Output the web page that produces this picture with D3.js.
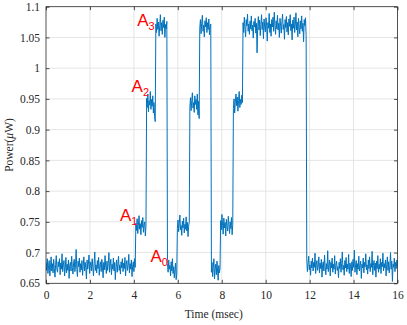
<!DOCTYPE html>
<html>
<head>
<meta charset="utf-8">
<script src="https://cdn.jsdelivr.net/npm/d3@7"></script>
<style>
  html, body { margin: 0; padding: 0; background: #fff; }
  svg { display: block; }
</style>
</head>
<body>
<svg id="chart" width="407" height="325"></svg>
<script>
// ---- data ----
// segment boundaries in msec
const segmentTimes = [0, 4.09, 4.58, 5.0, 5.53, 5.98, 6.55, 7.0, 7.53, 7.95, 8.53, 8.97, 11.87, 16];
// power samples (µW) read per segment
const seg0 = [0.684,0.671,0.690,0.666,0.679,0.687,0.662,0.676,0.693,0.670,
0.682,0.667,0.689,0.674,0.660,0.681,0.695,0.672,0.668,0.685,
0.677,0.690,0.664,0.683,0.673,0.698,0.669,0.680,0.687,0.662,
0.675,0.692,0.667,0.681,0.671,0.688,0.658,0.679,0.684,0.670,
0.694,0.676,0.665,0.683,0.689,0.669,0.680,0.705,0.673,0.661,
0.686,0.677,0.691,0.668,0.682,0.672,0.687,0.663,0.679,0.693,
0.670,0.684,0.675,0.657,0.688,0.673,0.681,0.696,0.666,0.679,
0.685,0.670,0.690,0.676,0.662,0.683,0.701,0.671,0.680,0.667,
0.687,0.674,0.692,0.663,0.680,0.685,0.669,0.689,0.676,0.659,
0.684,0.672,0.695,0.678,0.666,0.686,0.671,0.682,0.700,0.668,
0.679,0.689,0.664,0.681,0.673,0.691,0.670,0.684,0.656,0.677,
0.688,0.668,0.682,0.694,0.671,0.680,0.665,0.685,0.675,0.690,
0.669,0.683,0.674,0.692,0.662,0.681,0.687,0.671,0.679,0.697,
0.667,0.682,0.673,0.688,0.661,0.678,0.685,0.669,0.690,0.676];
const seg1 = [0.748,0.736,0.755,0.731,0.744,0.760,0.738,0.747,0.729,0.752,0.741,0.757,0.733,0.745,0.750,0.727,0.743];
const seg2 = [0.951,0.936,0.958,0.929,0.947,0.940,0.962,0.933,0.949,0.938,0.955,0.927,0.944,0.921,0.913];
const seg3 = [1.072,1.058,1.081,1.063,1.075,1.052,1.069,1.087,1.061,1.074,1.055,1.078,1.066,1.083,1.050,1.071,1.064,1.076];
const seg4 = [0.682,0.668,0.688,0.673,0.679,0.662,0.685,0.670,0.690,0.666,0.677,0.659,0.672,0.683,0.656,0.665];
const seg5 = [0.739,0.753,0.734,0.747,0.761,0.737,0.744,0.728,0.751,0.740,0.756,0.732,0.746,0.738,0.758,0.735,0.749,0.726,0.743,0.750];
const seg6 = [0.938,0.952,0.931,0.947,0.960,0.935,0.944,0.928,0.955,0.941,0.949,0.933,0.958,0.924,0.946,0.918];
const seg7 = [1.065,1.079,1.056,1.073,1.086,1.060,1.070,1.051,1.077,1.067,1.082,1.058,1.074,1.063,1.080,1.054,1.069,1.072];
const seg8 = [0.668,0.684,0.661,0.676,0.690,0.657,0.673,0.681,0.664,0.686,0.670,0.655,0.679,0.667,0.675];
const seg9 = [0.752,0.737,0.762,0.744,0.730,0.756,0.740,0.749,0.727,0.754,0.742,0.735,0.759,0.745,0.731,0.750,0.739,0.757,0.729,0.746];
const seg10 = [0.934,0.950,0.927,0.945,0.958,0.939,0.953,0.930,0.947,0.962,0.936,0.949,0.941,0.956,0.944];
const seg11 = [1.074,1.058,1.083,1.066,1.051,1.079,1.069,1.088,1.060,1.072,
1.055,1.077,1.064,1.085,1.061,1.070,1.049,1.076,1.067,1.081,
1.057,1.073,1.025,1.068,1.084,1.062,1.078,1.053,1.071,1.087,
1.063,1.075,1.048,1.080,1.066,1.059,1.082,1.070,1.044,1.074,
1.065,1.089,1.058,1.072,1.052,1.079,1.067,1.083,1.060,1.091,
1.069,1.055,1.077,1.064,1.086,1.062,1.073,1.050,1.081,1.068,
1.057,1.076,1.088,1.063,1.071,1.047,1.079,1.066,1.084,1.059,
1.074,1.054,1.080,1.068,1.087,1.061,1.072,1.046,1.078,1.065,
1.083,1.058,1.070,1.090,1.062,1.075,1.051,1.081,1.067,1.056,
1.077,1.064,1.085,1.060,1.073,1.043,1.079,1.069,1.082,1.053];
const seg12 = [0.688,0.669,0.682,0.694,0.672,0.680,0.663,0.686,0.675,0.691,
0.670,0.684,0.676,0.699,0.666,0.681,0.687,0.671,0.678,0.693,
0.667,0.683,0.674,0.689,0.660,0.680,0.685,0.670,0.696,0.677,
0.664,0.682,0.673,0.703,0.669,0.679,0.688,0.662,0.684,0.675,
0.691,0.668,0.681,0.673,0.695,0.665,0.680,0.686,0.671,0.677,
0.659,0.684,0.674,0.690,0.668,0.682,0.701,0.672,0.679,0.663,
0.687,0.675,0.692,0.669,0.681,0.673,0.697,0.666,0.683,0.678,
0.661,0.685,0.671,0.689,0.676,0.704,0.668,0.680,0.687,0.664,
0.682,0.673,0.694,0.670,0.679,0.686,0.658,0.681,0.675,0.691,
0.667,0.684,0.677,0.698,0.672,0.680,0.665,0.688,0.674,0.693,
0.669,0.682,0.676,0.702,0.664,0.679,0.687,0.671,0.683,0.660,
0.686,0.674,0.695,0.668,0.681,0.673,0.690,0.666,0.684,0.677,
0.699,0.670,0.682,0.675,0.688,0.662,0.680,0.693,0.671,0.685,
0.667,0.678,0.700,0.673,0.686,0.653,0.681,0.676,0.691,0.669,
0.684,0.674,0.688,0.679];
const segments = [seg0, seg1, seg2, seg3, seg4, seg5, seg6, seg7, seg8, seg9, seg10, seg11, seg12];

const xTicks = [0, 2, 4, 6, 8, 10, 12, 14, 16];
const yTicks = [0.65, 0.7, 0.75, 0.8, 0.85, 0.9, 0.95, 1, 1.05, 1.1];
const yTickLabels = ["0.65", "0.7", "0.75", "0.8", "0.85", "0.9", "0.95", "1", "1.05", "1.1"];
const xLabel = "Time (msec)";

// level annotations: [letter, subscript, time, power]
const annotationText = ["A", "A", "A", "A"];
const annotationSub = ["3", "2", "1", "0"];
const annotationTime = [4.15, 3.895, 3.364, 4.755];
const annotationPower = [1.069, 0.9607, 0.7518, 0.6842];

// ---- build series ----
const series = [];
segments.forEach((vals, k) => {
  const t0 = segmentTimes[k], t1 = segmentTimes[k + 1];
  const n = vals.length;
  const div = (k === segments.length - 1) ? n - 1 : n;
  vals.forEach((v, i) => series.push({ t: t0 + (t1 - t0) * i / div, p: v }));
});

// ---- chart ----
const svg = d3.select("#chart");
const L = 46, R = 397.5, T = 6.7, B = 283.3;
const x = d3.scaleLinear().domain([0, 16]).range([L, R]);
const y = d3.scaleLinear().domain([0.65, 1.1]).range([B, T]);

const serif = "'Liberation Serif', 'Times New Roman', serif";
const axisColor = "#262626";

// grid
const grid = svg.append("g").attr("stroke", "#e5e5e5").attr("stroke-width", 1);
grid.selectAll(".gx").data(xTicks.slice(1, -1)).join("line")
  .attr("x1", d => x(d)).attr("x2", d => x(d)).attr("y1", T).attr("y2", B);
grid.selectAll(".gy").data(yTicks.slice(1, -1)).join("line")
  .attr("x1", L).attr("x2", R).attr("y1", d => y(d)).attr("y2", d => y(d));

// clip
svg.append("clipPath").attr("id", "clip").append("rect")
  .attr("x", L).attr("y", T).attr("width", R - L).attr("height", B - T);

// data line
const line = d3.line().x(d => x(d.t)).y(d => y(d.p));
svg.append("path").datum(series)
  .attr("clip-path", "url(#clip)")
  .attr("fill", "none")
  .attr("stroke", "#0072BD")
  .attr("stroke-width", 1)
  .attr("stroke-linejoin", "round")
  .attr("d", line);

// axes (inward ticks)
const tickLen = 3.5;
const xAxisB = d3.axisBottom(x).tickValues(xTicks).tickSizeInner(-tickLen).tickSizeOuter(0).tickPadding(8);
const xAxisT = d3.axisTop(x).tickValues(xTicks).tickSizeInner(-tickLen).tickSizeOuter(0).tickFormat("");
const yAxisL = d3.axisLeft(y).tickValues(yTicks).tickSizeInner(-tickLen).tickSizeOuter(0).tickPadding(6)
  .tickFormat((d, i) => yTickLabels[i]);
const yAxisR = d3.axisRight(y).tickValues(yTicks).tickSizeInner(-tickLen).tickSizeOuter(0).tickFormat("");

function styleAxis(g) {
  g.attr("font-family", null).attr("font-size", null);
  g.select(".domain").remove();
  g.selectAll("line").attr("stroke", axisColor).attr("stroke-width", 0.8);
  g.selectAll("text").attr("fill", axisColor)
    .attr("font-family", serif).style("font-family", serif).style("font-size", "11.5px");
}
svg.append("g").attr("transform", `translate(0,${B})`).call(xAxisB).call(styleAxis);
svg.append("g").attr("transform", `translate(0,${T})`).call(xAxisT).call(styleAxis);
svg.append("g").attr("transform", `translate(${L},0)`).call(yAxisL).call(styleAxis);
svg.append("g").attr("transform", `translate(${R},0)`).call(yAxisR).call(styleAxis);

// box
svg.append("rect").attr("x", L).attr("y", T).attr("width", R - L).attr("height", B - T)
  .attr("fill", "none").attr("stroke", axisColor).attr("stroke-width", 0.8);

// axis labels
svg.append("text")
  .attr("x", (L + R) / 2 - 8).attr("y", 318)
  .attr("text-anchor", "middle")
  .attr("fill", axisColor)
  .style("font-family", serif).style("font-size", "11.5px")
  .text(xLabel);

const yl = svg.append("text")
  .attr("transform", `translate(13,${(T + B) / 2}) rotate(-90)`)
  .attr("text-anchor", "middle")
  .attr("fill", axisColor)
  .style("font-family", serif).style("font-size", "11.5px");
yl.append("tspan").text("Power(");
yl.append("tspan").style("font-style", "italic").text("\u03bc");
yl.append("tspan").text("W)");

// annotations
annotationText.forEach((a, i) => {
  const t = svg.append("text")
    .attr("x", x(annotationTime[i])).attr("y", y(annotationPower[i]))
    .attr("fill", "#ff0000")
    .style("font-family", "'Liberation Sans', Arial, sans-serif")
    .style("font-size", "17px");
  t.append("tspan").text(a);
  t.append("tspan").attr("dy", 4).style("font-size", "11px").text(annotationSub[i]);
});
</script>
</body>
</html>
